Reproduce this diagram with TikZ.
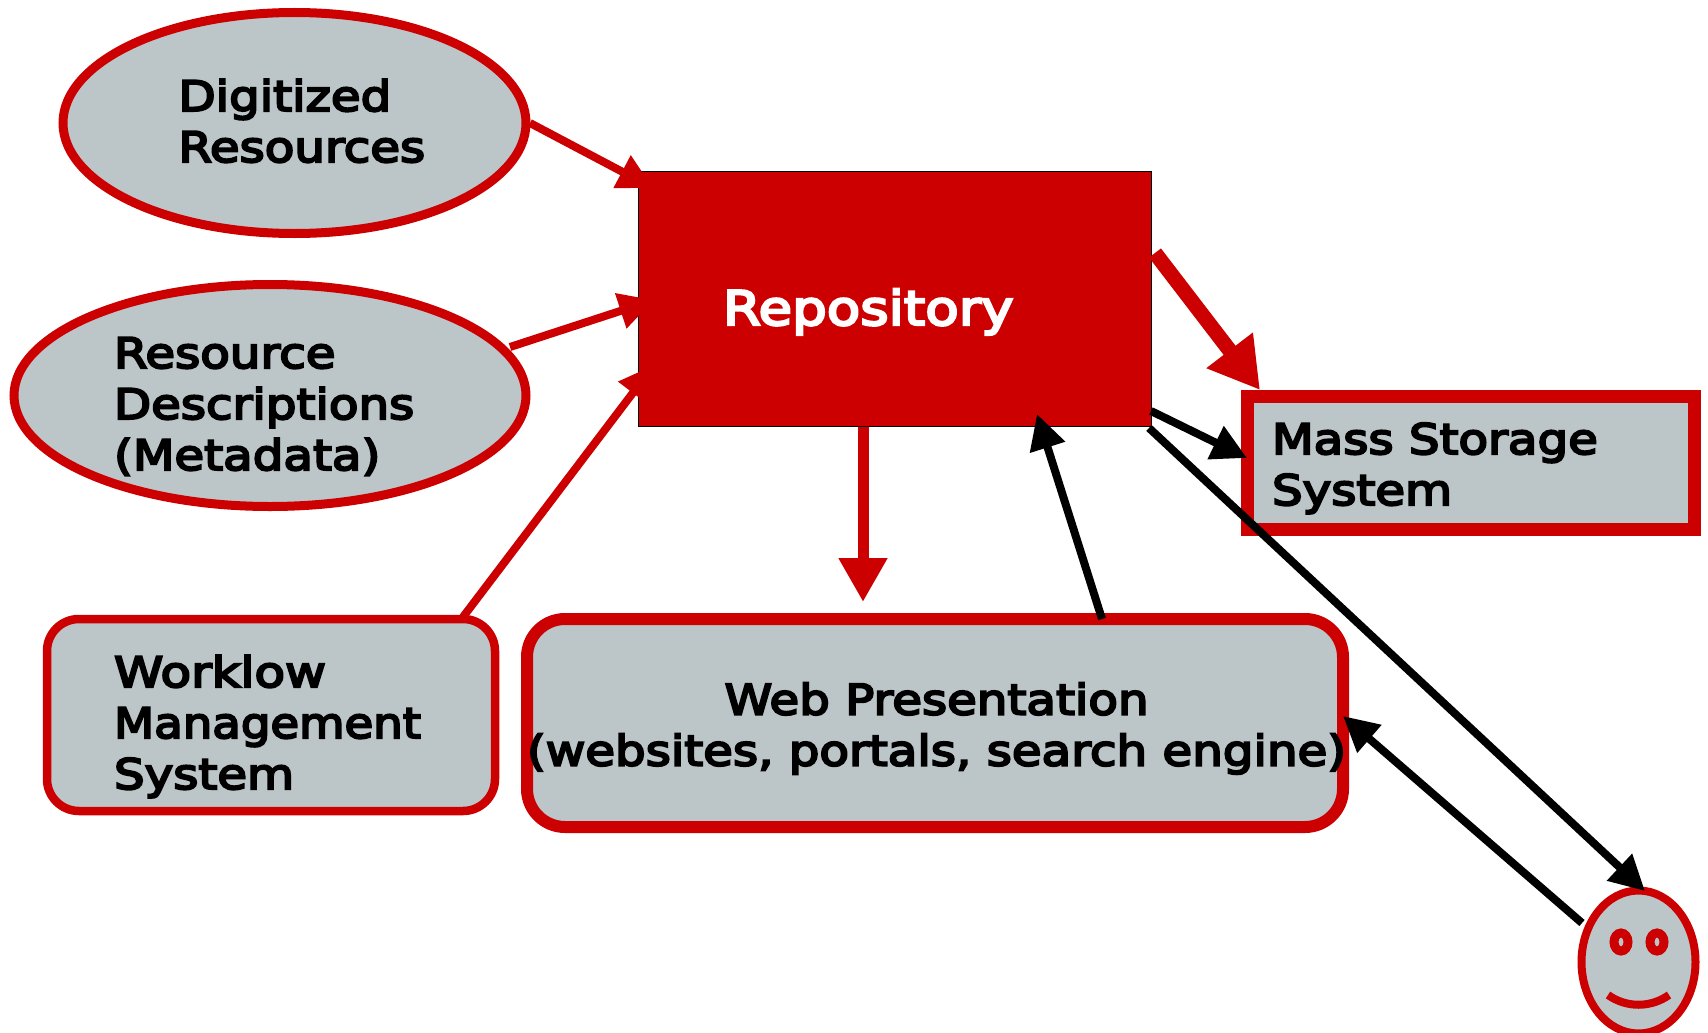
\documentclass[tikz,border=0pt]{standalone}
\usepackage{fontspec}
\usepackage{graphicx}
\setmainfont[FakeBold=5,FakeStretch=1.15]{DejaVu Sans}
\usetikzlibrary{shapes.geometric,arrows.meta}
\definecolor{rred}{HTML}{CC0000}
\definecolor{rgray}{HTML}{BCC5C8}
% zero-size text block: dx = left edge from centre, dy = first baseline above centre
\newcommand{\placetext}[4][l]{\makebox[0pt][l]{\hspace*{#2pt}\raisebox{#3pt}[0pt][0pt]{\begin{tabular}[t]{@{}#1@{}}#4\end{tabular}}}}
\tikzset{
  x=1pt,y=-1pt,
  every node/.style={inner sep=0pt,outer sep=0pt,font=\fontsize{42}{51}\selectfont},
  oval/.style={ellipse,draw=rred,fill=rgray,line width=9pt},
  rbox/.style={rectangle,rounded corners=32pt,draw=rred,fill=rgray,line width=8.5pt},
  eye/.style={ellipse,draw=rred,fill=rgray,line width=9pt,minimum width=14pt,minimum height=18pt},
  conred/.style={draw=rred,line width=8pt,-{Triangle[length=35pt,width=35pt,fill=rred]}},
  conblack/.style={draw=black,line width=8pt,-{Triangle[length=35pt,width=35pt,fill=black]}},
}
\begin{document}
\begin{tikzpicture}
\useasboundingbox (0,0) rectangle (1708,1033);
\node[oval,minimum width=463pt,minimum height=221pt] (dig) at (294.5,123)
  {\placetext{-116}{12}{Digitized\\Resources}};
\node[oval,minimum width=512pt,minimum height=222pt] (res) at (270,395.5)
  {\placetext{-156}{27.5}{Resource\\Descriptions\\(Metadata)}};
\node[rbox,minimum width=448pt,minimum height=192pt] (wf) at (271,715)
  {\placetext{-157}{28}{\scalebox{1.035}[1]{Worklow}\\\scalebox{0.965}[1]{Management}\\System}};
\node[rbox,rounded corners=38pt,line width=12pt,minimum width=816pt,minimum height=208pt] (web) at (935,723)
  {\placetext[c]{-408}{8.5}{Web Presentation\\(websites, portals, search engine)}};
\node[rectangle,draw=black,line width=1pt,fill=rred,minimum width=513pt,minimum height=255pt] (repo) at (894.5,298.5)
  {\placetext{-171.5}{-26.5}{\fontsize{47.5}{51}\selectfont\color{white}Repository}};
\node[rectangle,draw=rred,fill=rgray,line width=13pt,minimum width=447pt,minimum height=133pt] (mass) at (1471,462.5)
  {\placetext{-199}{8.5}{Mass Storage\\System}};
\node[oval,line width=8pt,minimum width=114pt,minimum height=143pt] (face) at (1638.5,962) {};
\node[eye] (eyeL) at (1621,942) {};
\node[eye] (eyeR) at (1657,942) {};
\draw[rred,line width=8pt] ([shift={(-30.5,33)}]face.center) .. controls ([shift={(-12,46)}]face.center) and ([shift={(12,46)}]face.center) .. ([shift={(30.5,33)}]face.center);
% connectors
\draw[conred] ([shift={(235.5,0)}]dig.center) -- ([shift={(-241.5,-110.5)}]repo.center);
\draw[conred] ([shift={(240,-48.5)}]res.center) -- ([shift={(-240.5,1.5)}]repo.center);
\draw[conred] ([shift={(192,-98)}]wf.center) -- ([shift={(-240.5,66.5)}]repo.center);
\draw[draw=rred,line width=15pt,-{Triangle[length=50pt,width=55pt,fill=rred]}] ([shift={(260.5,-45.5)}]repo.center) -- ([shift={(-211,-72.5)}]mass.center);
\draw[conblack] ([shift={(256.5,112.5)}]repo.center) -- ([shift={(-224,-4.5)}]mass.center);
\draw[conblack] ([shift={(254.5,129.5)}]repo.center) -- ([shift={(6.5,-71)}]face.center);
\draw[conblack] ([shift={(-56.5,-39)}]face.center) -- ([shift={(408,-7)}]web.center);
\draw[conblack] ([shift={(167,-104)}]web.center) -- ([shift={(142.5,115.5)}]repo.center);
\draw[draw=rred,line width=11pt,-{Triangle[length=44pt,width=46pt,fill=rred]}] ([shift={(-31.5,128.5)}]repo.center) -- ([shift={(-72,-121)}]web.center);
\end{tikzpicture}
\end{document}
